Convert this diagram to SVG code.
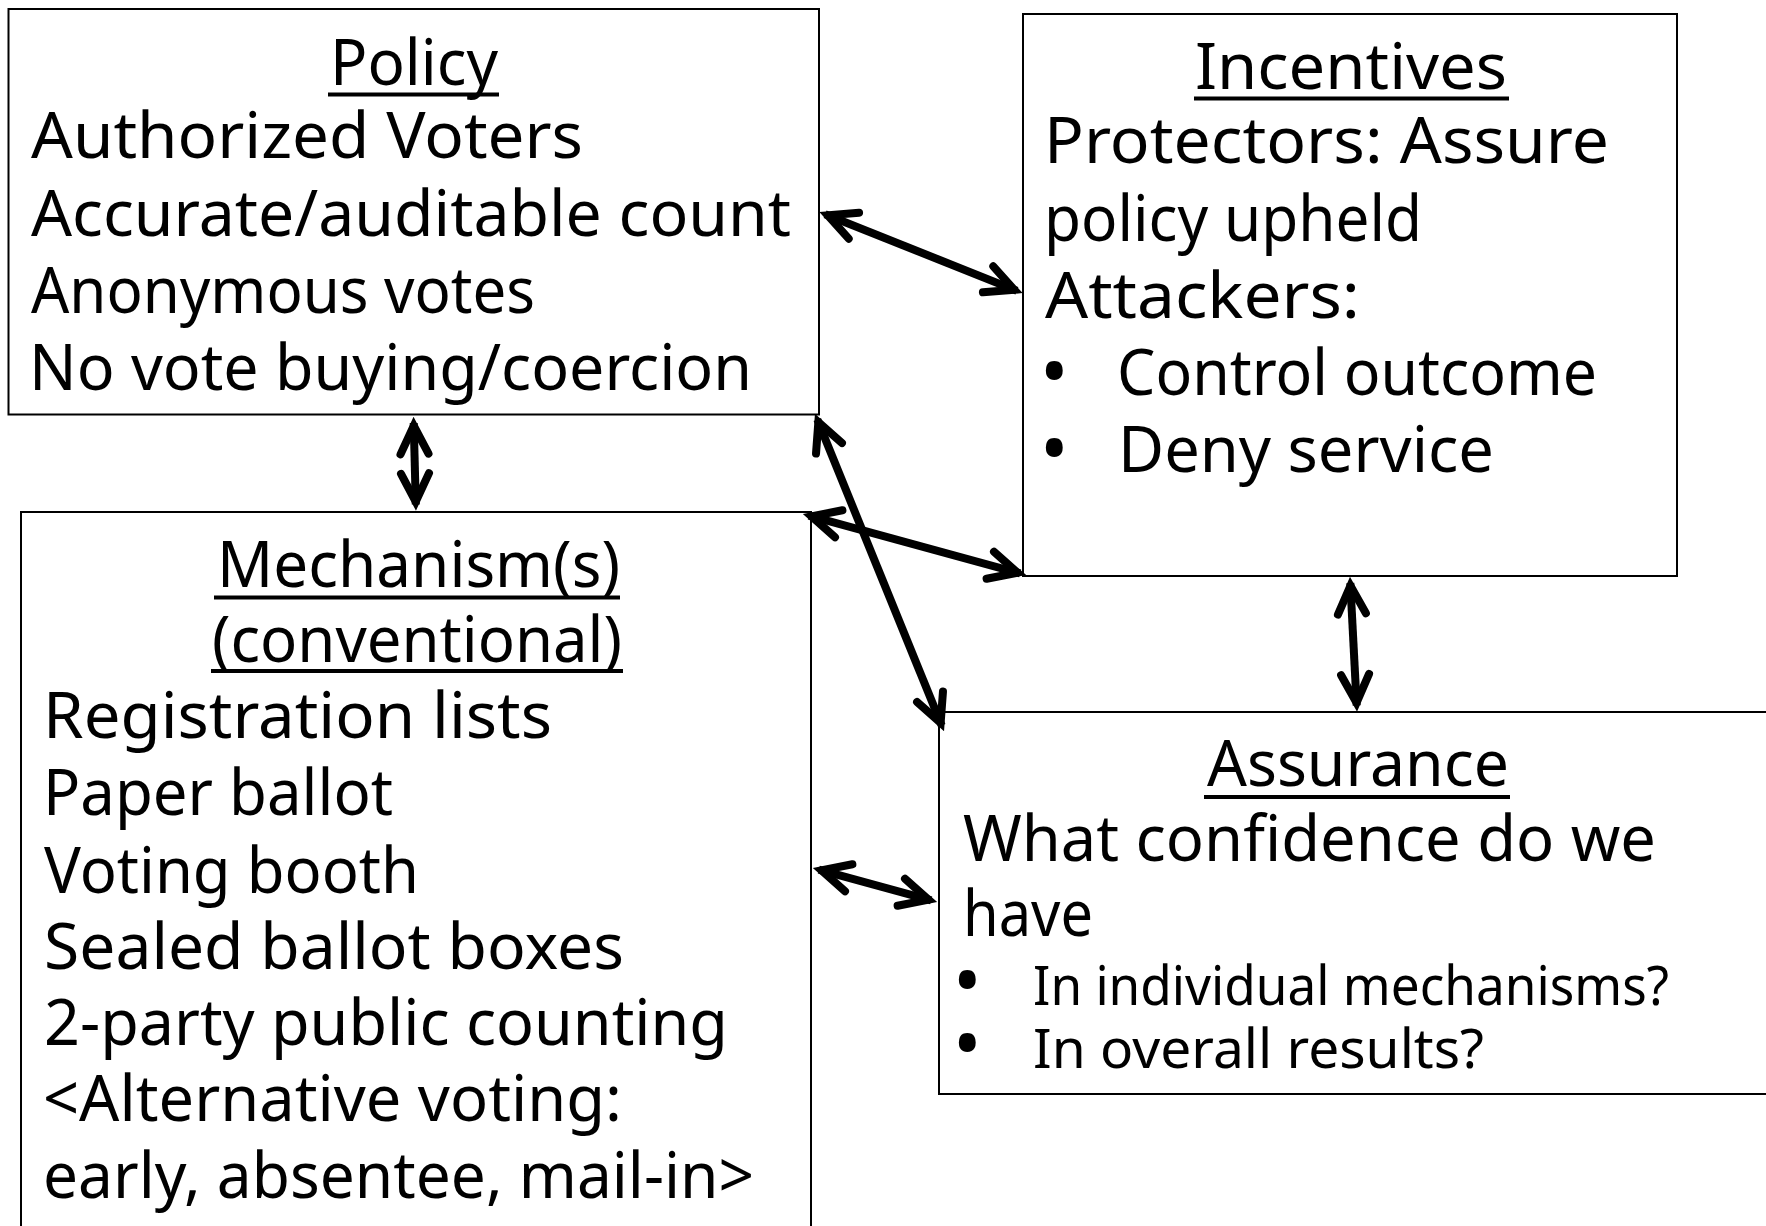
<svg xmlns="http://www.w3.org/2000/svg" width="1766" height="1226" viewBox="0 0 1766 1226">
<style>
.box{fill:#fff;stroke:#000;stroke-width:2}
.t{font-family:"Noto Sans","DejaVu Sans",sans-serif;font-size:64px;fill:#000}
.s{font-size:54px}
.b{font-family:"Noto Sans","DejaVu Sans",sans-serif;font-size:76px;fill:#000}
.ul{stroke:#000;stroke-width:3.8}
.con{fill:none;stroke:#000;stroke-width:8;marker-start:url(#ah);marker-end:url(#ah)}
</style>
<defs>
<marker id="ah" markerUnits="userSpaceOnUse" markerWidth="1" markerHeight="1" refX="0" refY="0" orient="auto-start-reverse" style="overflow:visible">
<path d="M-31,-14 L-2.8,0 L-31,14" fill="none" stroke="#000" stroke-width="8" stroke-linejoin="miter" stroke-linecap="round"/>
</marker>
</defs>
<rect width="1766" height="1226" fill="#fff"/>

<g id="policy">
<rect class="box" x="8.5" y="9" width="810.5" height="405.5"/>
<text class="t" x="330" y="85" textLength="168" lengthAdjust="spacingAndGlyphs">Policy</text>
<line class="ul" x1="328" y1="94.5" x2="499" y2="94.5"/>
<text class="t" x="31" y="158" textLength="552" lengthAdjust="spacingAndGlyphs">Authorized Voters</text>
<text class="t" x="31" y="236" textLength="760" lengthAdjust="spacingAndGlyphs">Accurate/auditable count</text>
<text class="t" x="31" y="313" textLength="504" lengthAdjust="spacingAndGlyphs">Anonymous votes</text>
<text class="t" x="29" y="390" textLength="723" lengthAdjust="spacingAndGlyphs">No vote buying/coercion</text>
</g>

<g id="incentives">
<rect class="box" x="1023" y="14" width="654" height="562"/>
<text class="t" x="1195" y="89" textLength="312" lengthAdjust="spacingAndGlyphs">Incentives</text>
<line class="ul" x1="1194" y1="98.5" x2="1509" y2="98.5"/>
<text class="t" x="1044" y="163" textLength="565" lengthAdjust="spacingAndGlyphs">Protectors: Assure</text>
<text class="t" x="1044" y="241" textLength="378" lengthAdjust="spacingAndGlyphs">policy upheld</text>
<text class="t" x="1045" y="318" textLength="315" lengthAdjust="spacingAndGlyphs">Attackers:</text>
<text class="b" x="1040" y="399">•</text>
<text class="t" x="1117" y="395" textLength="480" lengthAdjust="spacingAndGlyphs">Control outcome</text>
<text class="b" x="1040" y="476">•</text>
<text class="t" x="1118" y="472" textLength="376" lengthAdjust="spacingAndGlyphs">Deny service</text>
</g>

<g id="mechanisms">
<rect class="box" x="21" y="512" width="790" height="740"/>
<text class="t" x="217" y="587" textLength="403" lengthAdjust="spacingAndGlyphs">Mechanism(s)</text>
<line class="ul" x1="214" y1="597.5" x2="620" y2="597.5"/>
<text class="t" x="212" y="662" textLength="410" lengthAdjust="spacingAndGlyphs">(conventional)</text>
<line class="ul" x1="211" y1="671" x2="623" y2="671"/>
<text class="t" x="43" y="738" textLength="509" lengthAdjust="spacingAndGlyphs">Registration lists</text>
<text class="t" x="43" y="815" textLength="350" lengthAdjust="spacingAndGlyphs">Paper ballot</text>
<text class="t" x="44" y="893" textLength="375" lengthAdjust="spacingAndGlyphs">Voting booth</text>
<text class="t" x="44" y="969" textLength="580" lengthAdjust="spacingAndGlyphs">Sealed ballot boxes</text>
<text class="t" x="44" y="1045" textLength="684" lengthAdjust="spacingAndGlyphs">2-party public counting</text>
<text class="t" x="43" y="1121" textLength="579" lengthAdjust="spacingAndGlyphs">&lt;Alternative voting:</text>
<text class="t" x="43" y="1198" textLength="711" lengthAdjust="spacingAndGlyphs">early, absentee, mail-in&gt;</text>
</g>

<g id="assurance">
<rect class="box" x="939" y="712" width="840" height="382"/>
<text class="t" x="1207" y="786" textLength="302" lengthAdjust="spacingAndGlyphs">Assurance</text>
<line class="ul" x1="1204" y1="797" x2="1510" y2="797"/>
<text class="t" x="963" y="861" textLength="693" lengthAdjust="spacingAndGlyphs">What confidence do we</text>
<text class="t" x="963" y="936" textLength="130" lengthAdjust="spacingAndGlyphs">have</text>
<text class="b" x="953" y="1008">•</text>
<text class="t s" x="1033" y="1005" textLength="636" lengthAdjust="spacingAndGlyphs">In individual mechanisms?</text>
<text class="b" x="953" y="1071">•</text>
<text class="t s" x="1033" y="1068" textLength="451" lengthAdjust="spacingAndGlyphs">In overall results?</text>
</g>

<g id="connectors">
<path class="con" d="M413.7,423 L415.8,504.5"/>
<path class="con" d="M825.1,214.2 L1016.9,290.8"/>
<path class="con" d="M808.8,515.6 L1020.2,573.4"/>
<path class="con" d="M817.3,419.6 L941.7,725.4"/>
<path class="con" d="M1350.3,583 L1356.7,705.5"/>
<path class="con" d="M818.8,869.6 L931.2,900.4"/>
</g>
</svg>
